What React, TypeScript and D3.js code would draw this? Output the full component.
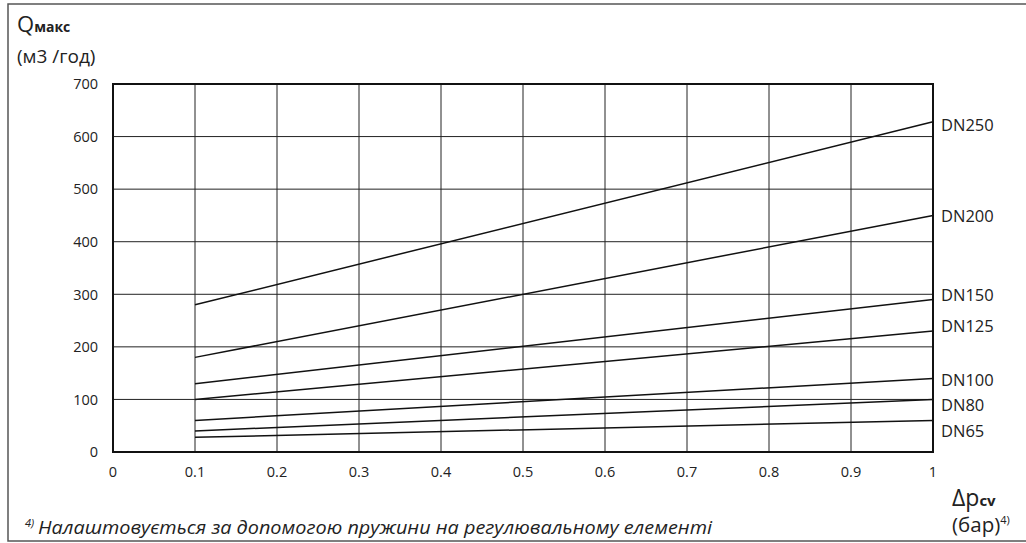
import React from "react";
import * as d3 from "d3";

const xTicks = [0, 0.1, 0.2, 0.3, 0.4, 0.5, 0.6, 0.7, 0.8, 0.9, 1];
const xTickLabels = ["0", "0.1", "0.2", "0.3", "0.4", "0.5", "0.6", "0.7", "0.8", "0.9", "1"];
const yTicks = [0, 100, 200, 300, 400, 500, 600, 700];
const seriesNames = ["DN250", "DN200", "DN150", "DN125", "DN100", "DN80", "DN65"];
const xRange = [0.1, 1];
const startValues = [280, 180, 130, 100, 60, 40, 28];
const endValues = [628, 450, 290, 230, 140, 100, 60];
const labelValues = [622, 449, 298, 240, 137, 89, 40];

const W = 1026;
const H = 543;
const left = 113;
const right = 933;
const top = 84;
const bottom = 452;

export default function App() {
  const x = d3.scaleLinear().domain([0, 1]).range([left, right]);
  const y = d3.scaleLinear().domain([0, 700]).range([bottom, top]);
  const line = d3
    .line<[number, number]>()
    .x((d) => x(d[0]))
    .y((d) => y(d[1]));
  const font = "'Open Sans', sans-serif";

  return (
    <svg
      width={W}
      height={H}
      style={{ position: "absolute", left: 0, top: 0, background: "#fff" }}
      fontFamily={font}
    >
      <rect x={0} y={0} width={W} height={H} fill="#fff" />
      <rect x={8} y={4} width={W + 20} height={537} fill="none" stroke="#555" strokeWidth={1.5} />

      {/* grid */}
      {xTicks.slice(1, -1).map((t) => (
        <line key={"gx" + t} x1={x(t)} x2={x(t)} y1={top} y2={bottom} stroke="#222" strokeWidth={1} />
      ))}
      {yTicks.slice(1, -1).map((t) => (
        <line key={"gy" + t} x1={left} x2={right} y1={y(t)} y2={y(t)} stroke="#222" strokeWidth={1} />
      ))}
      <rect x={left} y={top} width={right - left} height={bottom - top} fill="none" stroke="#111" strokeWidth={2} />

      {/* series */}
      {seriesNames.map((name, i) => (
        <path
          key={name}
          d={line([
            [xRange[0], startValues[i]],
            [xRange[1], endValues[i]],
          ]) as string}
          fill="none"
          stroke="#111"
          strokeWidth={1.5}
        />
      ))}
      {seriesNames.map((name, i) => (
        <text key={"l" + name} x={right + 8} y={y(labelValues[i])} dy="0.36em" fontSize={16.5} fill="#222">
          {name}
        </text>
      ))}

      {/* y ticks */}
      {yTicks.map((t) => (
        <text key={"yt" + t} x={98} y={y(t)} dy="0.36em" fontSize={14.5} textAnchor="end" fill="#222">
          {t}
        </text>
      ))}
      {/* x ticks */}
      {xTicks.map((t, i) => (
        <text key={"xt" + t} x={x(t)} y={477} fontSize={14.5} textAnchor="middle" fill="#222">
          {xTickLabels[i]}
        </text>
      ))}

      {/* y title */}
      <text x={17} y={32} fill="#222">
        <tspan fontSize={22}>Q</tspan>
        <tspan fontSize={14} fontWeight="bold">макс</tspan>
      </text>
      <text x={17} y={63} fontSize={19} fill="#222">
        (м3 /год)
      </text>

      {/* x title */}
      <text x={952} y={506} fill="#222">
        <tspan fontSize={23}>Δp</tspan>
        <tspan fontSize={15} fontWeight="bold">cv</tspan>
      </text>
      <text x={952} y={532} fill="#222">
        <tspan fontSize={20.5}>(бар)</tspan>
        <tspan fontSize={11} dy={-8}>4)</tspan>
      </text>

      {/* footnote */}
      <text x={25} y={527} fontSize={11} fontStyle="italic" fill="#222">
        4)
      </text>
      <text x={38} y={534} fontSize={19} fontStyle="italic" fill="#222" textLength={674} lengthAdjust="spacingAndGlyphs">
        Налаштовується за допомогою пружини на регулювальному елементі
      </text>
    </svg>
  );
}
